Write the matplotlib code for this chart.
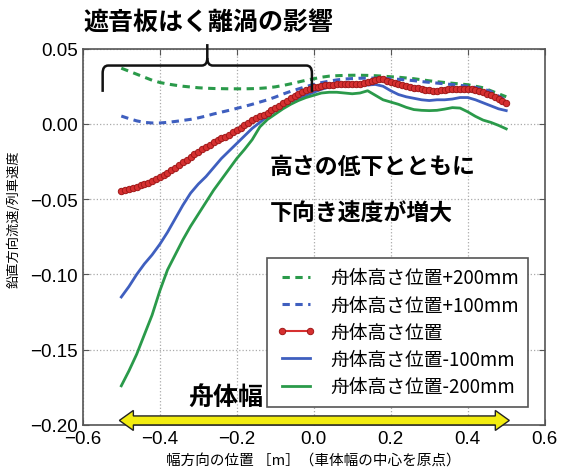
import numpy as np
import matplotlib.pyplot as plt
from matplotlib.path import Path
from matplotlib.patches import PathPatch, Polygon

# lateral position grid [m]
x_pos = np.round(np.arange(-0.50, 0.501, 0.02), 2)
x_fine = np.round(np.arange(-0.50, 0.501, 0.01), 2)

# vertical velocity / train speed
v_p200 = [0.037, 0.035, 0.033, 0.031, 0.029, 0.0275, 0.0265, 0.0257, 0.025, 0.0245,
          0.024, 0.0237, 0.0235, 0.0234, 0.0233, 0.0233, 0.0233, 0.0234, 0.0236, 0.024,
          0.0246, 0.0255, 0.0266, 0.0278, 0.029, 0.030, 0.031, 0.0317, 0.032, 0.0322,
          0.0323, 0.0323, 0.0322, 0.032, 0.0317, 0.0313, 0.031, 0.0305, 0.030, 0.0293,
          0.0286, 0.028, 0.0275, 0.027, 0.0265, 0.026, 0.025, 0.024, 0.022, 0.020, 0.018]
v_p100 = [0.0052, 0.0035, 0.002, 0.001, 0.0006, 0.0006, 0.001, 0.0016, 0.0023, 0.003,
          0.004, 0.0052, 0.0066, 0.0078, 0.009, 0.0103, 0.0116, 0.013, 0.0145, 0.016,
          0.0178, 0.0198, 0.0216, 0.0232, 0.0248, 0.0262, 0.0274, 0.0284, 0.0292, 0.0298,
          0.0301, 0.0303, 0.0304, 0.0304, 0.0302, 0.030, 0.0296, 0.0292, 0.0287, 0.0281,
          0.0276, 0.0271, 0.0266, 0.0261, 0.0256, 0.025, 0.0242, 0.0232, 0.0215, 0.0185, 0.0155]
# base height series is sampled finer (dense markers)
v_0 = [-0.0443, -0.0438, -0.0432, -0.0425, -0.0418, -0.0409, -0.0400, -0.0390, -0.0380, -0.0368,
       -0.0355, -0.0340, -0.0325, -0.0309, -0.0292, -0.0274, -0.0256, -0.0238, -0.0220, -0.0202,
       -0.0185, -0.0168, -0.0152, -0.0137, -0.0122, -0.0108, -0.0095, -0.0084, -0.0072, -0.0057,
       -0.0040, -0.0025, -0.0010, 0.0008, 0.0025, 0.0038, 0.0050, 0.0062, 0.0075, 0.0090,
       0.0105, 0.0122, 0.0140, 0.0155, 0.0170, 0.0185, 0.0200, 0.0213, 0.0225, 0.0235,
       0.0243, 0.0248, 0.0252, 0.0255, 0.0258, 0.0260, 0.0262, 0.0264, 0.0265, 0.0264,
       0.0262, 0.0264, 0.0268, 0.0274, 0.0280, 0.0287, 0.0292, 0.0296, 0.0295, 0.0288,
       0.0280, 0.0272, 0.0265, 0.0257, 0.0250, 0.0245, 0.0240, 0.0236, 0.0232, 0.0228,
       0.0224, 0.0221, 0.0220, 0.0224, 0.0228, 0.0230, 0.0232, 0.0234, 0.0235, 0.0234,
       0.0232, 0.0229, 0.0225, 0.0218, 0.0210, 0.0200, 0.0190, 0.0178, 0.0165, 0.0152, 0.0140]
v_m100 = [-0.115, -0.108, -0.100, -0.093, -0.087, -0.080, -0.072, -0.063, -0.054, -0.046,
          -0.040, -0.035, -0.029, -0.023, -0.018, -0.013, -0.008, -0.003, 0.001, 0.005,
          0.009, 0.012, 0.015, 0.017, 0.019, 0.021, 0.023, 0.0245, 0.0255, 0.0265,
          0.027, 0.0265, 0.0258, 0.0262, 0.025, 0.022, 0.0195, 0.018, 0.017, 0.016,
          0.0155, 0.016, 0.016, 0.0165, 0.0175, 0.0175, 0.016, 0.014, 0.012, 0.010, 0.0088]
v_m200 = [-0.174, -0.164, -0.153, -0.140, -0.127, -0.111, -0.097, -0.087, -0.077, -0.068,
          -0.060, -0.052, -0.044, -0.037, -0.030, -0.023, -0.017, -0.0105, -0.002, 0.003,
          0.0065, 0.010, 0.013, 0.0155, 0.0175, 0.019, 0.0205, 0.021, 0.021, 0.0205,
          0.020, 0.0205, 0.022, 0.019, 0.016, 0.0145, 0.013, 0.011, 0.0095, 0.009,
          0.0088, 0.009, 0.0098, 0.0108, 0.0105, 0.008, 0.005, 0.0025, 0.001, -0.001, -0.0033]

labels = ['舟体高さ位置+200mm', '舟体高さ位置+100mm', '舟体高さ位置',
          '舟体高さ位置-100mm', '舟体高さ位置-200mm']

x_ticks = [-0.6, -0.4, -0.2, 0.0, 0.2, 0.4, 0.6]
y_ticks = [-0.20, -0.15, -0.10, -0.05, 0.00, 0.05]

jp = ['Noto Sans CJK JP', 'DejaVu Sans']
green = '#2a9a4a'
blue = '#3f5fbf'
red = '#d63030'

fig = plt.figure(figsize=(5.71, 4.77), dpi=100)
ax = fig.add_axes([0.145, 0.107, 0.809, 0.789])

dash = (0, (2.4, 1.8))
ax.plot(x_pos, v_p200, color=green, lw=2.2, ls=dash, label=labels[0])
ax.plot(x_pos, v_p100, color=blue, lw=2.2, ls=dash, label=labels[1])
ax.plot(x_fine, v_0, color=red, lw=1.5, marker='o', ms=4.6, mfc=red, mec='#a01818',
        mew=0.7, label=labels[2], zorder=4)
ax.plot(x_pos, v_m100, color=blue, lw=2.0, label=labels[3])
ax.plot(x_pos, v_m200, color=green, lw=2.0, label=labels[4])

ax.set_xlim(-0.6, 0.6)
ax.set_ylim(-0.2, 0.05)
ax.set_xticks(x_ticks)
ax.set_yticks(y_ticks)
ax.set_xticklabels([f'{v:.1f}'.replace('-', '\u2212') for v in x_ticks],
                   family='Liberation Sans', fontsize=13.5)
ax.set_yticklabels([f'{v:.2f}'.replace('-', '\u2212') for v in y_ticks],
                   family='Liberation Sans', fontsize=13.5)
ax.tick_params(direction='in', top=True, right=True, length=4, color='#555555')
ax.grid(True, ls=':', color='#aaaaaa', lw=0.9)
for s in ax.spines.values():
    s.set_color('#555555')
    s.set_linewidth(1.2)

ax.set_xlabel('幅方向の位置 ［m］（車体幅の中心を原点）', family=jp, fontsize=10.5)
ax.set_ylabel('鉛直方向流速/列車速度', family=jp, fontsize=9.5)
ax.yaxis.set_label_coords(-0.134, 0.55)

leg = ax.legend(loc='lower right', bbox_to_anchor=(0.985, 0.024), prop={'family': jp, 'size': 13.5},
                numpoints=2, fancybox=False, framealpha=1, edgecolor='#555555',
                handlelength=2.1, labelspacing=0.33, borderpad=0.5)
leg.get_frame().set_linewidth(1.2)

# bracket over the left region (axes fraction)
xl, xc, xr = 0.043, 0.2695, 0.496
yb, yt, ytip = 0.885, 0.955, 1.012
r = 0.012
verts = [(xl, yb), (xl, yt - 0.02), (xl, yt), (xl + r, yt),
         (xc - r, yt), (xc, yt), (xc, yt + 0.02), (xc, ytip)]
codes = [Path.MOVETO, Path.LINETO, Path.CURVE3, Path.CURVE3,
         Path.LINETO, Path.CURVE3, Path.CURVE3, Path.LINETO]
verts2 = [(xr, yb), (xr, yt - 0.02), (xr, yt), (xr - r, yt),
          (xc + r, yt), (xc, yt), (xc, yt + 0.02)]
codes2 = [Path.MOVETO, Path.LINETO, Path.CURVE3, Path.CURVE3,
          Path.LINETO, Path.CURVE3, Path.CURVE3]
for v, c in ((verts, codes), (verts2, codes2)):
    ax.add_patch(PathPatch(Path(v, c), transform=ax.transAxes, fill=False,
                           lw=1.8, color='#111111', clip_on=False, zorder=6))

ax.text(0.273, 1.071, '遮音板はく離渦の影響', transform=ax.transAxes, family=jp,
        fontsize=18, fontweight='bold', ha='center', va='center')
ax.text(0.405, 0.687, '高さの低下とともに', transform=ax.transAxes, family=jp,
        fontsize=16.5, fontweight='bold', ha='left', va='center')
ax.text(0.405, 0.562, '下向き速度が増大', transform=ax.transAxes, family=jp,
        fontsize=16.5, fontweight='bold', ha='left', va='center')
ax.text(0.39, 0.075, '舟体幅', transform=ax.transAxes, family=jp,
        fontsize=18, fontweight='bold', ha='right', va='center')

# yellow double arrow showing car body width
px_x = 1.2 / (0.809 * 571)
px_y = 0.25 / (0.789 * 477)
x0, x1, ya = -0.505, 0.508, -0.197
hl, hh, st = 14 * px_x, 10 * px_y, 4.5 * px_y
arrow = [(x0, ya), (x0 + hl, ya + hh), (x0 + hl, ya + st), (x1 - hl, ya + st),
         (x1 - hl, ya + hh), (x1, ya), (x1 - hl, ya - hh), (x1 - hl, ya - st),
         (x0 + hl, ya - st), (x0 + hl, ya - hh)]
ax.add_patch(Polygon(arrow, closed=True, facecolor='#f2ec10', edgecolor='#222222',
                     lw=1.0, clip_on=False, zorder=7))

fig.savefig('out.png', dpi=100)
